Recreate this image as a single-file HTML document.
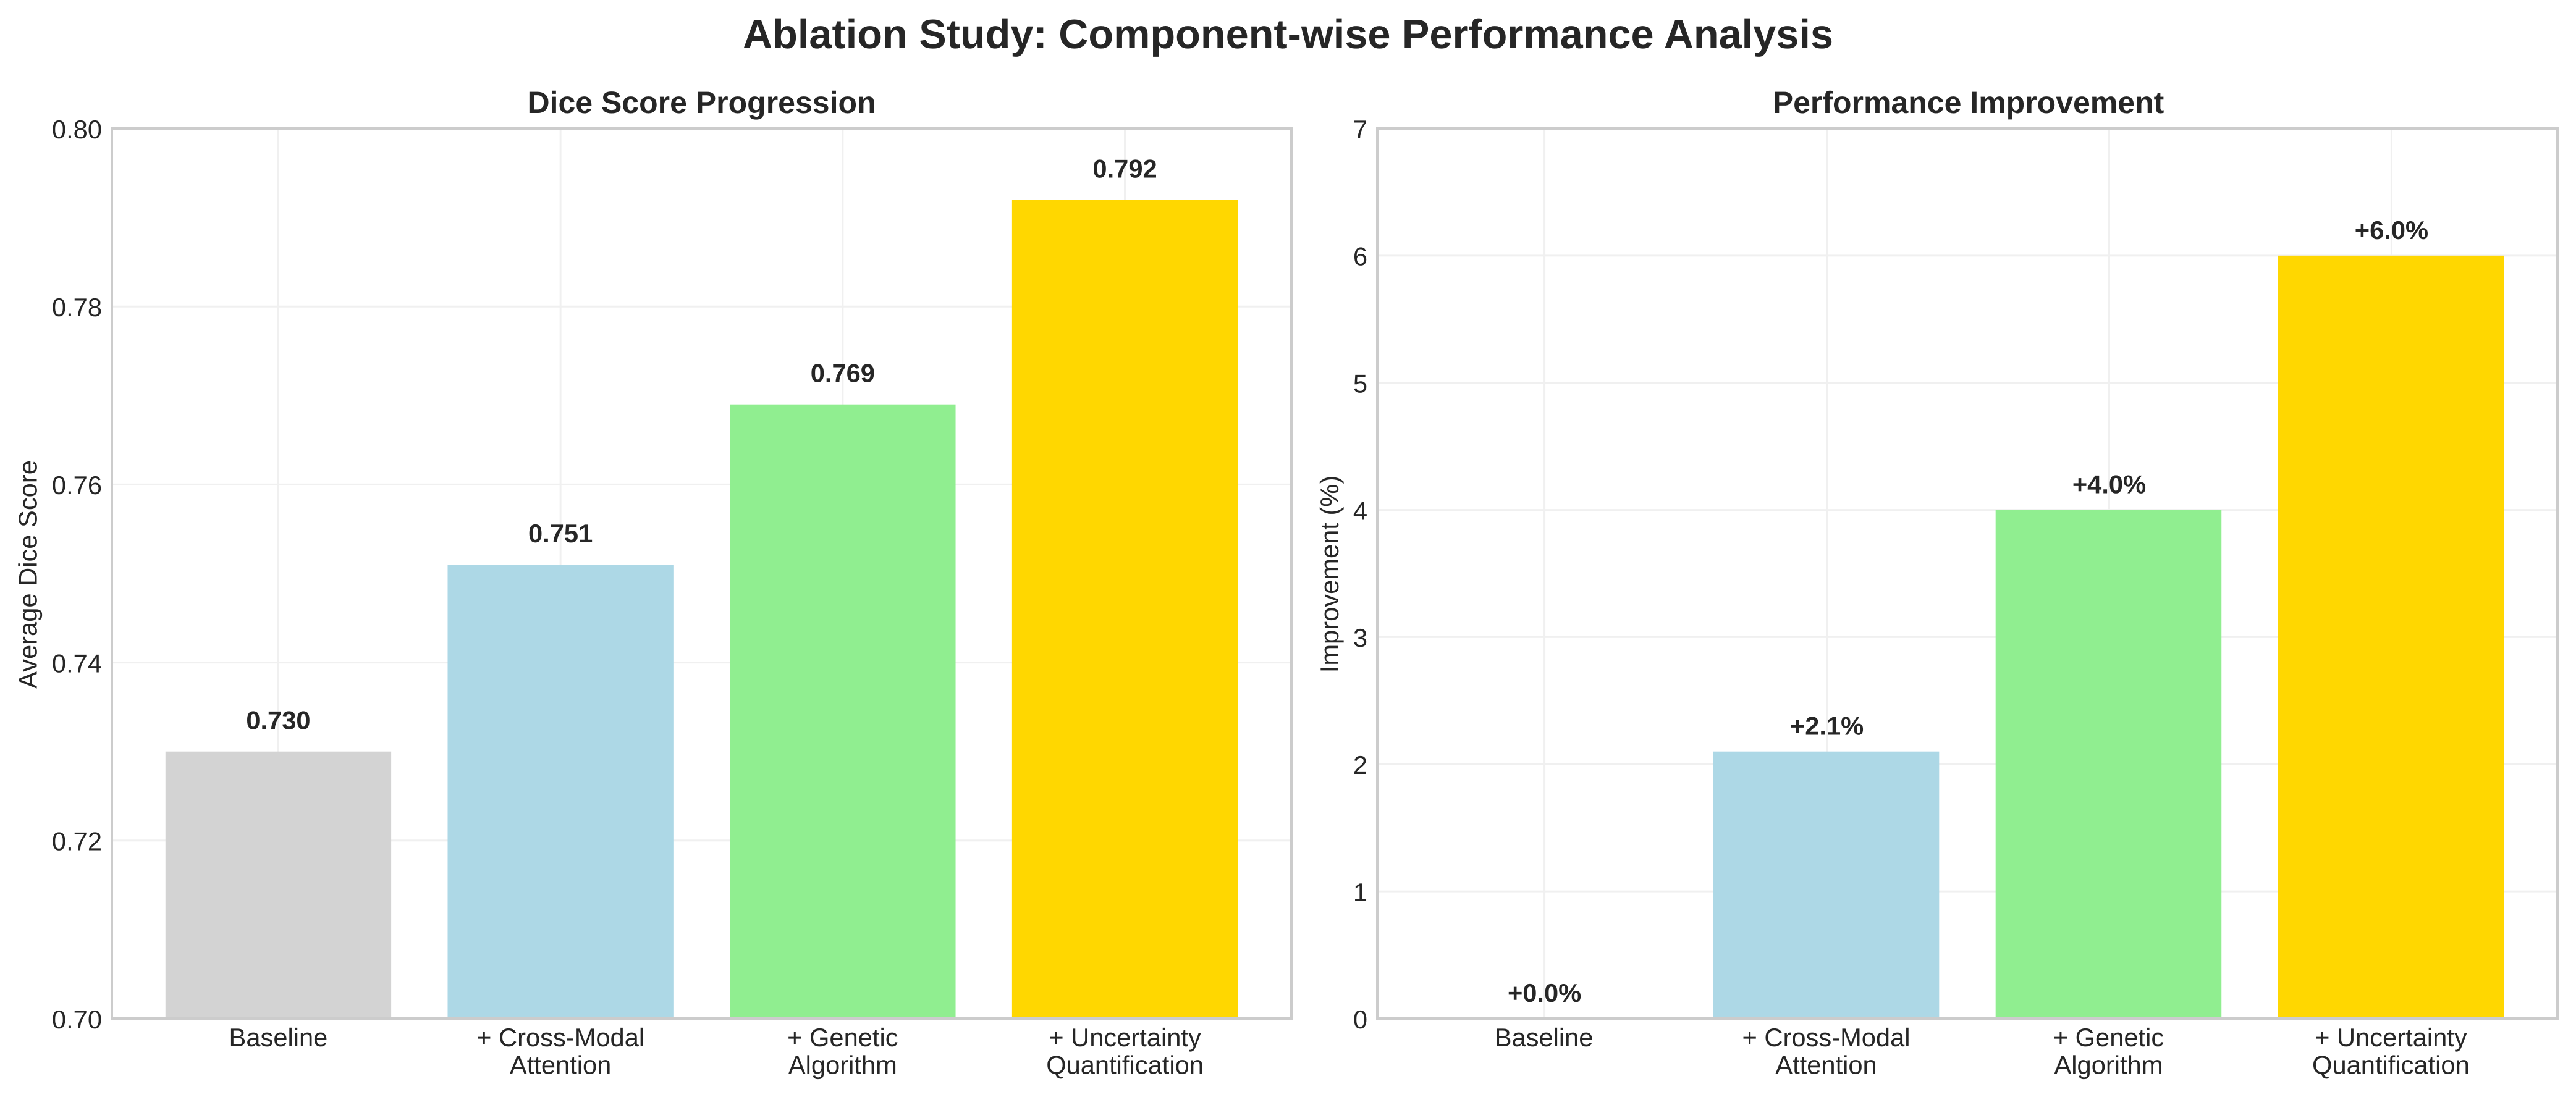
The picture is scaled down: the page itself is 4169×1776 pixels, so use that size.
<!DOCTYPE html>
<html lang="en">
<head>
<meta charset="utf-8">
<title>Ablation Study: Component-wise Performance Analysis</title>
<style>
html,body{margin:0;padding:0;background:#fff;width:4169px;height:1776px;overflow:hidden}
svg{display:block;text-rendering:geometricPrecision}
text{font-family:"Liberation Sans",Arial,sans-serif;fill:#262626}
</style>
</head>
<body>
<svg id="figure" xmlns="http://www.w3.org/2000/svg" width="4169" height="1776" viewBox="0 0 4169 1776">
<rect width="4169" height="1776" fill="#fff"/>
<text x="2084.5" y="78" text-anchor="middle" font-size="66.7" font-weight="700">Ablation Study: Component-wise Performance Analysis</text>
<text x="1135.5" y="183" text-anchor="middle" font-size="50" font-weight="700">Dice Score Progression</text>
<text x="3185.5" y="183" text-anchor="middle" font-size="50" font-weight="700">Performance Improvement</text>
<text transform="translate(59.5,930) rotate(-90)" text-anchor="middle" font-size="41.67">Average Dice Score</text>
<text transform="translate(2166,929.5) rotate(-90)" text-anchor="middle" font-size="41.67">Improvement (%)</text>
<g id="dice-panel"></g>
<g id="improvement-panel"></g>
</svg>
<script>
const categories = [["Baseline"], ["+ Cross-Modal", "Attention"], ["+ Genetic", "Algorithm"], ["+ Uncertainty", "Quantification"]];
const categorySlugs = ["baseline", "cross-modal", "genetic", "uncertainty"];
const barColors = ["#d3d3d3", "#add8e6", "#90ee90", "#ffd700"];
const diceValues = [0.730, 0.751, 0.769, 0.792];
const improvementValues = [0.0, 2.1, 4.0, 6.0];
const diceTicks = [0.70, 0.72, 0.74, 0.76, 0.78, 0.80];
const improvementTicks = [0, 1, 2, 3, 4, 5, 6, 7];

const NS = "http://www.w3.org/2000/svg";
const TOP = 208, BOTTOM = 1649, XMIN = -0.59, XMAX = 3.59, BAR_W = 0.8;

function el(parent, tag, attrs, text) {
  const node = document.createElementNS(NS, tag);
  for (const k in attrs) node.setAttribute(k, attrs[k]);
  if (text !== undefined) node.textContent = text;
  parent.appendChild(node);
  return node;
}

function drawPanel(cfg) {
  const g = document.getElementById(cfg.id);
  const x = v => cfg.left + (v - XMIN) / (XMAX - XMIN) * (cfg.right - cfg.left);
  const y = v => BOTTOM - (v - cfg.yMin) / (cfg.yMax - cfg.yMin) * (BOTTOM - TOP);

  // grid
  cfg.ticks.forEach(t => {
    const line = el(g, "line", {x1: cfg.left, x2: cfg.right, y1: y(t), y2: y(t), stroke: "#f0f0f0", "stroke-width": 3});
    
    
  });
  categories.forEach((c, i) => {
    const line = el(g, "line", {x1: x(i) + cfg.valueShift, x2: x(i) + cfg.valueShift, y1: TOP, y2: BOTTOM, stroke: "#f0f0f0", "stroke-width": 3});
    
    
  });

  // bars
  cfg.values.forEach((v, i) => {
    const x0 = x(i - BAR_W / 2), x1 = x(i + BAR_W / 2);
    const bar = el(g, "rect", {x: x0, y: y(v), width: x1 - x0, height: BOTTOM - y(v), fill: barColors[i]});
    
    
  });

  // spines
  const spine = el(g, "rect", {x: cfg.left, y: TOP, width: cfg.right - cfg.left, height: BOTTOM - TOP, fill: "none", stroke: "#cccccc", "stroke-width": 4});
  
  

  // y tick labels
  cfg.ticks.forEach(t => {
    const label = el(g, "text", {x: cfg.left - 16, y: y(t) + 15.8, "text-anchor": "end", "font-size": 41.67}, cfg.tickFormat(t));
    
    
  });

  // x tick labels
  categories.forEach((lines, i) => {
    lines.forEach((txt, k) => {
      const label = el(g, "text", {x: x(i), y: 1694 + k * 44.5, "text-anchor": "middle", "font-size": 41.67}, txt);
      
      
    });
  });

  // value labels
  cfg.values.forEach((v, i) => {
    const label = el(g, "text", {x: x(i) + cfg.valueShift, y: y(v) - cfg.labelGap, "text-anchor": "middle", "font-size": 41.67, "font-weight": 700}, cfg.valueFormat(v));
    
    
  });
}

drawPanel({
  id: "dice-panel", left: 181, right: 2090, yMin: 0.70, yMax: 0.80,
  ticks: diceTicks, values: diceValues, labelGap: 36, valueShift: 0,
  tickFormat: t => t.toFixed(2), valueFormat: v => v.toFixed(3)
});
drawPanel({
  id: "improvement-panel", left: 2229, right: 4139, yMin: 0, yMax: 7,
  ticks: improvementTicks, values: improvementValues, labelGap: 27, valueShift: 1,
  tickFormat: t => String(t), valueFormat: v => "+" + v.toFixed(1) + "%"
});
</script>
</body>
</html>
